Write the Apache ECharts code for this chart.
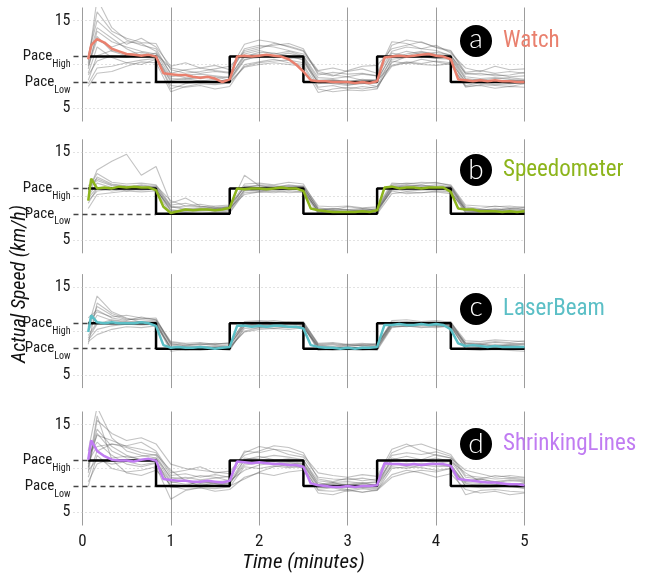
<!DOCTYPE html>
<html><head><meta charset="utf-8">
<script src="https://cdn.jsdelivr.net/npm/echarts@6/dist/echarts.min.js"></script>
<style>html,body{margin:0;padding:0;background:#fff}#c{width:645px;height:579px}</style>
</head><body><div id="c"></div>
<script>
const panelNames = ['Watch', 'Speedometer', 'LaserBeam', 'ShrinkingLines'];
const panelLetters = ['a', 'b', 'c', 'd'];
const panelColors = ['#E9806E', '#8DB51C', '#5BBFC6', '#C07CF2'];
const paceHigh = 10.9;
const paceLow = 8.0;
const xTicks = [0, 1, 2, 3, 4, 5];
const gridValues = [5, 10, 15];
const stepTimesSec = [4, 50, 50, 100, 100, 150, 150, 200, 200, 250, 250, 300];
const stepLevels = ['H', 'H', 'L', 'L', 'H', 'H', 'L', 'L', 'H', 'H', 'L', 'L'];

const meanTimesSec = [4, 6, 10, 15, 20, 25, 30, 35, 40, 45, 50, 55, 60, 65, 70, 75, 80, 85, 90, 95, 100,
  105, 110, 115, 120, 125, 130, 135, 140, 145, 150, 155, 160, 165, 170, 175, 180, 185, 190, 195, 200,
  205, 210, 215, 220, 225, 230, 235, 240, 245, 250, 255, 260, 265, 270, 275, 280, 285, 290, 295, 300];
const grayTimesSec = [4, 10, 20, 30, 40, 50, 60, 70, 80, 90, 100, 110, 120, 130, 140, 150,
  160, 170, 180, 190, 200, 210, 220, 230, 240, 250, 260, 270, 280, 290, 300];

const meanWatch = [10.6, 12.2, 12.9, 12.5, 11.8, 11.5, 11.2, 11.1, 11.0, 11.1, 10.9, 9.0, 8.9, 8.8, 8.8, 8.6, 8.5, 8.6, 8.4, 8.0, 8.3,
  10.9, 11.0, 10.9, 11.0, 11.1, 11.0, 10.9, 10.6, 10.0, 9.2, 8.2, 8.1, 8.1, 8.0, 8.0, 8.0, 7.9, 8.0, 7.9, 8.1,
  10.8, 10.9, 11.0, 10.9, 11.0, 11.1, 11.2, 11.0, 10.9, 10.6, 8.3, 8.2, 8.1, 8.2, 8.1, 8.2, 8.1, 8.1, 8.0, 8.0];
const meanSpeedometer = [9.5, 12.0, 10.9, 11.0, 10.9, 11.1, 11.0, 11.1, 11.0, 11.0, 10.7, 8.8, 8.1, 8.3, 8.5, 8.4, 8.5, 8.5, 8.4, 8.5, 8.7,
  10.9, 10.8, 10.9, 10.9, 10.8, 10.9, 11.0, 10.9, 10.9, 10.6, 8.6, 8.4, 8.3, 8.2, 8.2, 8.2, 8.2, 8.3, 8.2, 8.4,
  11.0, 11.1, 10.9, 11.0, 11.0, 10.9, 11.0, 11.0, 11.0, 10.5, 8.6, 8.5, 8.5, 8.3, 8.3, 8.3, 8.2, 8.3, 8.2, 8.3];
const meanLaserBeam = [9.9, 11.8, 11.0, 10.9, 11.0, 10.9, 10.9, 10.9, 11.0, 10.9, 10.6, 8.4, 8.1, 8.2, 8.1, 8.1, 8.2, 8.1, 8.0, 8.1, 8.2,
  10.6, 10.6, 10.5, 10.6, 10.5, 10.6, 10.6, 10.5, 10.5, 10.3, 8.4, 8.2, 8.1, 8.1, 8.0, 8.1, 8.0, 8.1, 8.1, 8.2,
  10.7, 10.7, 10.8, 10.7, 10.7, 10.8, 10.7, 10.8, 10.7, 10.2, 8.6, 8.3, 8.4, 8.3, 8.2, 8.3, 8.2, 8.2, 8.2, 8.2];
const meanShrinkingLines = [11.0, 13.2, 12.0, 11.4, 11.0, 10.9, 10.9, 10.8, 11.0, 11.1, 10.9, 8.8, 8.7, 8.6, 8.6, 8.5, 8.5, 8.6, 8.5, 8.4, 8.6,
  10.8, 10.7, 10.6, 10.7, 10.6, 10.5, 10.5, 10.4, 10.4, 10.2, 8.3, 8.1, 8.0, 7.9, 7.9, 8.0, 7.9, 8.0, 8.0, 8.1,
  10.6, 10.5, 10.5, 10.4, 10.5, 10.4, 10.5, 10.5, 10.5, 10.3, 8.8, 8.7, 8.6, 8.5, 8.4, 8.4, 8.3, 8.2, 8.2, 8.1];

const grayWatch = [
  [9.5,13.8,12.6,12.0,11.5,11.2, 9.6,9.3,9.0,9.2,9.0, 11.8,12.2,12.0,11.6,11.2, 9.2,8.8,8.6,8.9,8.7, 11.5,12.0,11.8,11.6,11.0, 9.0,8.8,8.9,8.6,8.7],
  [10.2,17.5,14.2,12.8,12.2,11.8, 8.9,8.5,8.4,8.6,8.2, 10.9,11.4,11.3,11.0,10.5, 8.0,7.8,7.6,7.9,7.5, 10.8,11.2,11.5,11.1,10.8, 8.3,8.0,8.2,7.9,8.0],
  [8.2,11.0,11.6,11.2,11.4,11.0, 7.2,7.8,8.0,7.9,8.1, 10.5,11.0,10.8,10.9,10.6, 7.4,7.6,7.2,7.5,7.3, 10.2,10.9,11.0,10.7,10.6, 7.6,7.9,7.7,7.8,7.9],
  [11.0,15.0,13.5,12.3,13.0,12.0, 9.8,10.2,9.6,9.9,9.4, 12.3,12.8,12.5,12.0,11.5, 9.3,9.6,9.2,9.5,9.0, 12.6,12.4,11.8,12.2,11.3, 9.6,9.2,9.8,9.4,9.5],
  [9.0,12.0,10.8,10.2,10.5,10.7, 7.6,7.4,7.6,7.2,7.5, 10.0,10.3,10.6,10.2,10.0, 7.2,6.9,7.1,7.0,7.2, 10.4,10.1,10.6,10.3,10.0, 7.5,7.6,7.3,7.5,7.4],
  [7.8,9.6,9.8,10.2,10.0,10.6, 8.2,8.4,8.1,8.3,8.0, 9.8,10.2,10.4,10.5,10.2, 8.0,8.2,7.9,8.1,8.2, 9.9,10.3,10.1,10.4,10.2, 8.1,8.3,8.0,8.2,8.1],
  [10.5,14.2,13.0,11.8,11.0,11.3, 8.6,8.8,8.9,8.7,8.5, 11.2,11.6,11.2,11.5,11.0, 8.5,8.4,8.6,8.2,8.3, 11.0,11.5,11.2,11.4,11.1, 8.6,8.4,8.5,8.3,8.2],
  [9.8,12.8,12.0,12.6,12.4,11.5, 9.0,9.4,9.6,9.3,9.1, 11.6,12.0,12.2,12.4,11.8, 8.8,9.1,8.9,9.0,8.7, 12.2,12.8,12.5,12.0,11.6, 9.1,9.3,9.0,9.2,9.0],
  [8.8,10.4,11.0,10.8,11.2,11.0, 8.0,7.9,8.2,8.0,8.3, 10.6,10.8,11.0,10.7,10.8, 7.8,8.0,7.7,7.8,8.0, 10.6,10.8,10.9,10.7,10.8, 7.9,8.0,8.1,7.8,7.9],
  [10.0,13.2,11.5,11.0,10.8,10.9, 8.4,8.3,8.6,8.4,8.6, 11.0,11.2,11.0,11.3,10.9, 8.2,8.3,8.0,8.3,8.1, 11.3,11.0,11.4,11.2,11.0, 8.4,8.2,8.4,8.5,8.3],
  [7.5,9.0,9.2,9.8,10.3,10.2, 6.9,7.5,7.8,7.7,7.9, 9.7,10.0,10.2,10.0,9.8, 6.8,7.2,7.4,7.2,7.5, 9.8,10.2,10.0,9.9,10.1, 7.4,7.7,7.6,7.5,7.8],
  [10.8,16.0,13.8,13.0,12.5,12.4, 9.4,9.0,9.2,9.5,9.8, 11.4,11.8,12.4,12.1,11.6, 9.0,8.7,9.3,9.8,9.9, 11.8,12.2,12.6,11.9,11.5, 8.9,9.0,8.7,8.8,9.1]
];
const graySpeedometer = [
  [10.5,13.0,14.0,14.8,12.4,13.4, 9.2,9.8,8.9,8.6,8.8, 12.4,11.2,11.0,11.3,11.1, 8.5,8.6,8.4,8.3,8.6, 11.1,11.3,11.2,11.1,11.0, 8.5,8.4,8.6,8.5,8.7],
  [11.0,11.8,11.2,11.0,11.3,11.1, 8.9,8.6,8.7,8.5,8.8, 11.1,11.2,11.0,11.1,11.0, 8.6,8.4,8.5,8.6,8.4, 11.2,11.1,11.3,11.0,11.1, 8.7,8.5,8.4,8.6,8.5],
  [9.8,11.0,10.6,10.8,10.7,10.8, 8.4,8.2,8.3,8.4,8.2, 10.6,10.7,10.6,10.8,10.7, 8.2,8.1,8.2,8.0,8.1, 10.8,10.6,10.7,10.8,10.6, 8.2,8.3,8.1,8.2,8.0],
  [10.2,12.2,11.4,11.2,11.0,11.2, 9.5,8.9,8.8,8.9,9.0, 11.0,11.3,11.2,11.0,11.2, 8.9,8.8,8.9,8.7,8.8, 11.5,11.4,11.6,11.5,11.3, 9.0,8.9,8.8,8.9,8.7],
  [8.6,10.2,10.4,10.6,10.5,10.6, 8.0,8.1,8.0,8.2,8.1, 10.4,10.5,10.6,10.4,10.5, 8.0,7.9,8.0,8.1,8.0, 10.3,10.5,10.4,10.6,10.5, 8.1,8.0,8.2,8.0,8.1],
  [10.8,12.6,11.6,11.4,11.5,11.3, 9.0,9.2,8.8,8.7,8.9, 11.4,11.5,11.3,11.6,11.4, 8.7,8.5,8.8,8.6,8.7, 11.3,11.5,11.4,11.6,11.2, 8.8,8.6,8.9,8.7,8.8],
  [9.2,10.9,10.9,11.0,10.8,10.9, 8.5,8.3,8.5,8.3,8.4, 10.8,10.9,10.8,10.9,10.8, 8.3,8.2,8.3,8.4,8.3, 10.9,10.8,11.0,10.9,10.8, 8.3,8.4,8.3,8.2,8.3],
  [10.0,11.5,11.0,10.6,10.9,10.7, 8.7,8.9,9.1,8.8,8.7, 10.2,10.5,10.4,10.6,10.5, 8.4,8.6,8.5,8.4,8.5, 10.6,10.3,10.4,10.5,10.3, 8.6,8.5,8.4,8.6,8.5],
  [11.2,12.0,11.3,11.1,11.2,11.0, 8.8,8.5,8.6,8.7,8.5, 11.2,11.0,11.1,11.2,11.1, 8.5,8.4,8.3,8.5,8.4, 11.0,11.2,11.1,11.3,11.1, 8.5,8.4,8.5,8.3,8.4],
  [9.5,10.6,10.8,10.9,11.0,10.8, 8.3,8.5,8.4,8.6,8.5, 10.7,10.6,10.8,10.7,10.9, 8.2,8.3,8.1,8.2,8.3, 10.7,10.9,10.8,10.7,10.9, 8.4,8.2,8.3,8.4,8.2]
];
const grayLaserBeam = [
  [8.5,13.2,12.0,11.4,11.3,11.2, 8.6,8.3,8.5,8.4,8.3, 10.9,11.0,10.8,11.0,10.9, 8.4,8.3,8.5,8.3,8.4, 11.0,10.9,11.0,11.1,10.9, 8.6,8.5,8.7,8.6,8.5],
  [10.0,11.8,11.2,11.0,11.1,11.0, 8.0,7.8,7.9,8.0,7.8, 10.5,10.7,10.6,10.5,10.6, 7.9,7.8,7.9,7.8,7.9, 10.6,10.5,10.7,10.6,10.5, 7.9,7.8,7.9,7.8,7.7],
  [9.0,10.2,10.6,10.8,10.7,10.8, 7.7,7.9,7.8,8.0,7.9, 10.3,10.4,10.5,10.4,10.6, 7.8,8.0,7.9,8.0,7.8, 10.4,10.6,10.5,10.4,10.6, 8.0,8.1,7.9,8.0,8.1],
  [11.5,12.4,11.5,11.2,11.6,11.3, 8.8,8.6,8.7,8.5,8.6, 11.1,11.2,11.0,11.1,11.0, 8.6,8.7,8.5,8.6,8.4, 11.2,11.3,11.1,11.2,11.0, 8.9,8.8,9.0,8.9,8.8],
  [8.8,9.6,10.2,10.5,10.4,10.6, 8.2,8.1,8.2,8.3,8.1, 10.0,10.4,10.3,10.5,10.4, 8.2,8.1,8.0,8.2,8.1, 10.8,10.7,10.8,10.6,10.7, 8.3,8.2,8.4,8.3,8.2],
  [10.5,14.0,12.2,11.5,11.0,11.1, 8.4,8.2,8.1,8.2,8.3, 10.9,10.8,10.9,10.8,10.7, 8.2,8.1,8.2,8.1,8.3, 10.9,10.8,10.7,10.9,10.8, 8.4,8.3,8.2,8.4,8.3],
  [9.5,11.0,10.9,11.0,10.8,10.9, 8.1,8.3,8.2,8.1,8.2, 9.9,10.2,10.3,10.2,10.4, 8.3,8.2,8.3,8.4,8.2, 10.7,10.9,10.8,10.7,10.9, 8.7,8.6,8.8,8.7,8.9],
  [10.2,12.8,11.8,11.3,11.4,11.5, 8.5,8.4,8.6,8.5,8.7, 11.0,11.1,11.2,11.0,11.1, 8.5,8.6,8.4,8.5,8.6, 11.0,11.1,11.0,10.9,11.1, 8.4,8.5,8.3,8.4,8.5],
  [9.2,10.8,11.3,11.1,11.0,10.9, 7.9,8.0,8.1,7.9,8.0, 10.7,10.6,10.8,10.7,10.8, 8.0,7.9,8.1,8.0,8.1, 10.5,10.6,10.4,10.6,10.5, 8.1,8.0,8.2,8.1,8.0],
  [11.0,12.2,11.6,11.8,11.5,11.3, 8.7,8.5,8.4,8.6,8.5, 10.6,10.9,11.0,10.9,10.8, 8.4,8.5,8.3,8.4,8.5, 10.8,10.7,10.9,10.8,10.6, 8.6,8.5,8.4,8.5,8.6]
];
const grayShrinkingLines = [
  [9.5,15.5,14.0,13.2,13.5,12.8, 10.5,10.0,9.8,9.6,9.4, 11.8,12.5,12.2,12.0,11.5, 9.5,9.2,9.0,9.3,9.1, 12.2,12.8,12.0,11.5,11.2, 9.8,9.4,9.0,9.2,9.0],
  [12.0,17.0,13.5,12.0,11.5,11.2, 9.0,8.8,9.2,9.0,8.6, 11.0,11.2,11.5,11.3,11.0, 8.2,8.4,8.0,8.3,8.5, 11.0,11.4,11.0,11.6,11.2, 8.5,8.8,8.4,8.6,8.5],
  [8.0,11.5,10.0,9.6,9.8,10.2, 6.5,7.5,7.8,7.4,7.6, 9.0,9.5,9.2,9.6,9.8, 7.2,7.0,7.5,7.3,7.6, 9.3,9.8,9.5,9.0,9.4, 7.6,7.2,7.4,7.0,7.2],
  [10.5,14.5,12.5,11.5,11.0,11.2, 8.5,8.2,8.4,8.3,8.4, 10.6,10.8,10.5,10.7,10.4, 7.8,7.9,7.6,7.8,7.7, 10.4,10.6,10.3,10.5,10.2, 8.0,8.2,8.1,8.3,8.0],
  [9.0,12.0,12.8,12.6,13.0,12.0, 9.5,9.8,10.2,9.5,9.7, 11.5,12.0,12.6,12.4,11.8, 8.8,8.5,8.9,8.6,8.8, 11.8,12.5,12.8,12.2,11.6, 9.2,9.0,8.8,8.9,8.7],
  [11.5,13.0,11.5,10.5,10.2,10.6, 8.0,7.6,7.8,7.7,7.9, 10.2,10.0,10.3,10.1,10.2, 7.5,7.4,7.6,7.3,7.5, 10.0,10.2,10.1,9.8,10.0, 8.3,8.0,8.1,7.9,7.8],
  [10.0,16.0,11.0,9.5,9.2,9.8, 8.2,8.0,8.6,8.3,8.0, 8.8,9.6,10.2,10.5,10.0, 7.6,7.8,7.4,7.7,7.5, 9.0,9.5,9.8,9.6,10.0, 7.0,7.5,7.6,7.4,7.3],
  [10.8,12.5,12.8,12.4,11.8,11.5, 8.8,9.0,8.7,8.9,9.1, 11.2,11.0,10.9,11.1,10.9, 8.6,8.4,8.5,8.3,8.4, 10.8,11.0,10.9,11.2,10.8, 8.6,8.8,8.5,8.7,8.6],
  [8.5,10.5,11.2,11.4,11.0,11.0, 7.8,8.0,8.2,8.1,8.3, 10.4,10.6,10.8,10.5,10.6, 8.0,8.1,7.9,8.0,8.2, 10.5,10.3,10.6,10.4,10.5, 8.0,7.8,7.9,8.0,7.7],
  [11.2,13.8,13.2,12.5,12.2,11.8, 9.2,9.4,9.0,9.3,9.0, 12.0,11.8,12.2,11.6,11.3, 9.0,8.8,8.7,8.9,8.6, 11.5,11.8,11.6,11.9,11.4, 9.0,8.8,9.2,9.0,8.9],
  [9.8,11.0,10.5,10.8,10.4,10.7, 8.4,8.6,8.3,8.5,8.6, 9.8,10.4,10.6,10.2,10.4, 8.1,8.3,8.2,8.0,8.1, 10.2,10.0,10.4,10.2,10.3, 8.4,8.3,8.5,8.2,8.3],
  [10.2,14.0,12.0,11.2,11.4,11.6, 9.8,8.6,8.0,8.4,8.2, 11.0,11.4,11.0,10.8,10.6, 8.4,8.0,8.2,8.4,8.0, 11.2,10.8,11.0,10.6,10.8, 9.5,8.5,8.2,8.0,8.4]
];

const meanData = [meanWatch, meanSpeedometer, meanLaserBeam, meanShrinkingLines];
const grayData = [grayWatch, graySpeedometer, grayLaserBeam, grayShrinkingLines];

// layout
const FONT = "'Roboto Condensed','DejaVu Sans Condensed',sans-serif";
const gridTops = [7.5, 139.3, 274.1, 411.5];
const gridH = 114;
const badgeY = [41, 170, 309, 444];

const chart = echarts.init(document.getElementById('c'), null, {renderer: 'canvas'});
const option = {animation: false, backgroundColor: '#fff', grid: [], xAxis: [], yAxis: [], series: [], graphic: []};

for (let p = 0; p < 4; p++) {
  option.grid.push({left: 73.5, width: 451, top: gridTops[p], height: gridH});
  option.xAxis.push({
    gridIndex: p, type: 'value', min: -0.1, max: 5,
    axisLine: {show: false}, axisTick: {show: false}, splitLine: {show: false},
    axisLabel: p === 3 ? {show: true, customValues: xTicks, fontFamily: FONT, fontSize: 17, color: '#1a1a1a', margin: 8} : {show: false}
  });
  option.yAxis.push({
    gridIndex: p, type: 'value', min: 3.5, max: 16.5,
    axisLine: {show: false}, axisTick: {show: false}, splitLine: {show: false},
    axisLabel: {
      customValues: [5, paceLow, paceHigh, 15], margin: 3, color: '#1a1a1a',
      formatter: function (v) {
        if (Math.abs(v - paceHigh) < 1e-6) return '{p|Pace}{s|High}';
        if (Math.abs(v - paceLow) < 1e-6) return '{p|Pace}{s|Low}';
        return '{n|' + v + '}';
      },
      rich: {
        n: {fontFamily: FONT, fontSize: 16, color: '#1a1a1a'},
        p: {fontFamily: FONT, fontSize: 15, color: '#1a1a1a'},
        s: {fontFamily: FONT, fontSize: 10, color: '#1a1a1a', padding: [16, 0, 0, 0]}
      }
    }
  });
  const mlData = [];
  xTicks.forEach(v => mlData.push({xAxis: v, lineStyle: {color: '#9c9c9c', width: 1, type: 'solid'}}));
  gridValues.forEach(v => mlData.push({yAxis: v, lineStyle: {color: '#c4c4c4', width: 1, type: [1, 3]}}));
  mlData.push([{coord: [-0.1, paceLow], lineStyle: {color: '#444', width: 1.3, type: [5, 4]}}, {coord: [stepTimesSec[1] / 60, paceLow]}]);
  mlData.push([{coord: [-0.1, paceHigh], lineStyle: {color: '#444', width: 1.3, type: [5, 4]}}, {coord: [stepTimesSec[0] / 60, paceHigh]}]);
  grayData[p].forEach((line, k) => {
    const s = {
      type: 'line', xAxisIndex: p, yAxisIndex: p, silent: true, symbol: 'none', z: 2,
      data: grayTimesSec.map((t, i) => [t / 60, line[i]]),
      lineStyle: {color: 'rgba(85,85,85,0.36)', width: 1.1}
    };
    if (k === 0) s.markLine = {silent: true, symbol: 'none', z: 1, label: {show: false}, animation: false, data: mlData};
    option.series.push(s);
  });
  option.series.push({
    type: 'line', xAxisIndex: p, yAxisIndex: p, silent: true, symbol: 'none', z: 3,
    data: stepTimesSec.map((t, i) => [t / 60, stepLevels[i] === 'H' ? paceHigh : paceLow]),
    lineStyle: {color: '#000', width: 2.5}
  });
  option.series.push({
    type: 'line', xAxisIndex: p, yAxisIndex: p, silent: true, symbol: 'none', z: 4,
    data: meanTimesSec.map((t, i) => [t / 60, meanData[p][i]]),
    lineStyle: {color: panelColors[p], width: 2.5}
  });
  const cy = badgeY[p];
  option.graphic.push({type: 'circle', shape: {cx: 476, cy: cy, r: 16}, style: {fill: '#000'}, z: 10});
  const up = (panelLetters[p] === 'a' || panelLetters[p] === 'c') ? 2 : 0;
  option.graphic.push({type: 'text', x: 476, y: cy - up, z: 11, style: {text: panelLetters[p], fill: '#fff', font: "300 28px 'Lato Light', Lato, sans-serif", align: 'center', verticalAlign: 'middle', textAlign: 'center', textVerticalAlign: 'middle'}});
  option.graphic.push({type: 'text', x: 503, y: cy, z: 11, style: {text: panelNames[p], fill: panelColors[p], font: "23px " + FONT, align: 'left', verticalAlign: 'middle', textAlign: 'left', textVerticalAlign: 'middle'}});
}
option.graphic.push({type: 'text', x: 303.5, y: 563, style: {text: 'Time (minutes)', fill: '#111', font: "italic 21px " + FONT, align: 'center', verticalAlign: 'middle', textAlign: 'center', textVerticalAlign: 'middle'}});
option.graphic.push({type: 'text', x: 20, y: 284, rotation: Math.PI / 2, style: {text: 'Actual Speed (km/h)', fill: '#111', font: "italic 20px " + FONT, align: 'center', verticalAlign: 'middle', textAlign: 'center', textVerticalAlign: 'middle'}});
chart.setOption(option);
</script>
</body></html>
